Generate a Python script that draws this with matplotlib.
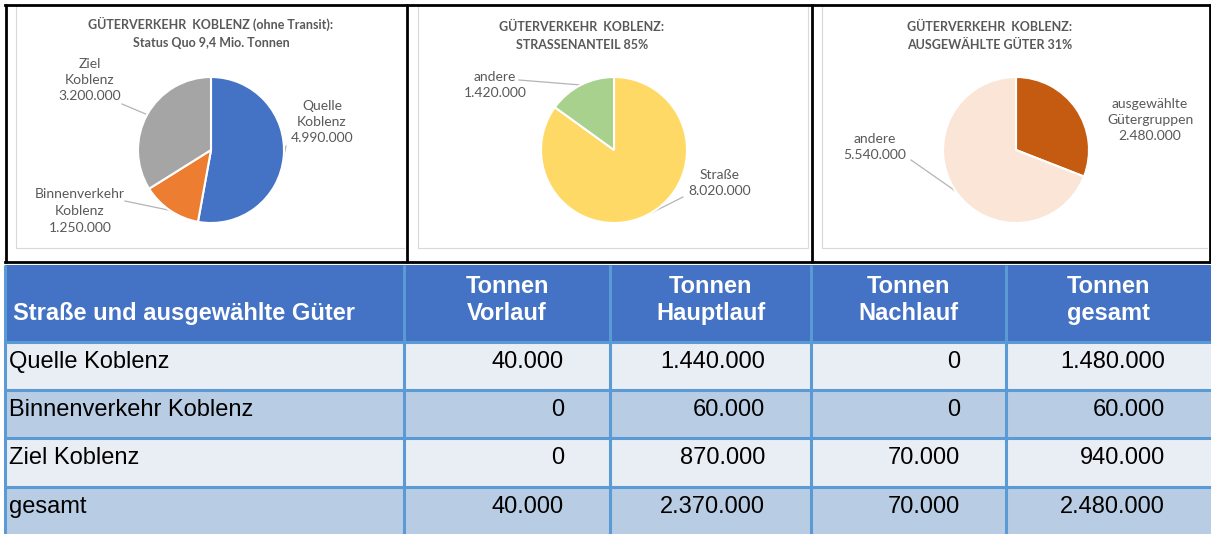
import matplotlib
matplotlib.use("Agg")
import numpy as np
import matplotlib.pyplot as plt
from matplotlib.patches import Rectangle

W, H = 1211, 534

# --- pie charts ---
p1_labels = ["Quelle\nKoblenz", "Binnenverkehr\nKoblenz", "Ziel\nKoblenz"]
p1_values = [4990000, 1250000, 3200000]
p1_colors = ["#4472C4", "#ED7D31", "#A5A5A5"]
p1_title = "GÜTERVERKEHR  KOBLENZ (ohne Transit):\nStatus Quo 9,4 Mio. Tonnen"

p2_labels = ["Straße", "andere"]
p2_values = [8020000, 1420000]
p2_colors = ["#FFD966", "#A9D18E"]
p2_title = "GÜTERVERKEHR  KOBLENZ:\nSTRASSENANTEIL 85%"

p3_labels = ["ausgewählte\nGütergruppen", "andere"]
p3_values = [2480000, 5540000]
p3_colors = ["#C55A11", "#FBE5D6"]
p3_title = "GÜTERVERKEHR  KOBLENZ:\nAUSGEWÄHLTE GÜTER 31%"

# --- table ---
col_headers = ["Straße und ausgewählte Güter", "Tonnen\nVorlauf", "Tonnen\nHauptlauf",
               "Tonnen\nNachlauf", "Tonnen\ngesamt"]
row_names = ["Quelle Koblenz", "Binnenverkehr Koblenz", "Ziel Koblenz", "gesamt"]
vorlauf = [40000, 0, 0, 40000]
hauptlauf = [1440000, 60000, 870000, 2370000]
nachlauf = [0, 0, 70000, 70000]
gesamt = [1480000, 60000, 940000, 2480000]


def fmt(v):
    return "{:,}".format(v).replace(",", ".")


fig = plt.figure(figsize=(W / 100, H / 100), dpi=100)
bg = fig.add_axes([0, 0, 1, 1])
bg.set_xlim(0, W)
bg.set_ylim(H, 0)
bg.axis("off")

GRAY = "#595959"
R = 73  # pie radius in px


def draw_pie(cx, cy, values, colors, labels, label_pos, leader_start, title, title_pos):
    aw, ah = 380, 240
    ax = fig.add_axes([(cx - aw / 2) / W, 1 - (cy + ah / 2) / H, aw / W, ah / H])
    wedges, _ = ax.pie(values, colors=colors, startangle=90, counterclock=False,
                       wedgeprops=dict(edgecolor="white", linewidth=1.5))
    ax.set_xlim(-aw / 2 / R, aw / 2 / R)
    ax.set_ylim(-ah / 2 / R, ah / 2 / R)
    ax.axis("off")
    for w, lab, v, pos, ls in zip(wedges, labels, values, label_pos, leader_start):
        bg.text(pos[0], pos[1], lab + "\n" + fmt(v), ha="center", va="center",
                fontsize=10, family="Lato", color=GRAY, linespacing=1.45)
        if ls is not None:
            mid = np.deg2rad((w.theta1 + w.theta2) / 2)
            ex, ey = cx + R * np.cos(mid), cy - R * np.sin(mid)
            bg.plot([ls[0], ex], [ls[1], ey], color="#B4B4B4", lw=0.9)
    bg.text(title_pos[0], title_pos[1], title, ha="center", va="center",
            fontsize=9, family="Lato", weight="bold", color=GRAY, linespacing=1.55)


draw_pie(211, 150, p1_values, p1_colors, p1_labels,
         [(322, 122), (80, 211), (90, 80)],
         [(286, 146), (125, 201), (122, 104)],
         p1_title, (211, 33))
draw_pie(614, 150, p2_values, p2_colors, p2_labels,
         [(720, 183), (495, 85)],
         [(683, 197), (519, 80)],
         p2_title, (582, 36))
draw_pie(1016, 150, p3_values, p3_colors, p3_labels,
         [(1150, 120), (875, 147)],
         [None, (911, 160)],
         p3_title, (990, 36))

# chart frames
fc = "#D9D9D9"
bg.plot([16, 16, 404], [5, 248, 248], color=fc, lw=0.8)
bg.plot([418, 418, 808, 808], [5, 248, 248, 5], color=fc, lw=0.8)
bg.plot([822, 822, 1207], [5, 248, 248], color=fc, lw=0.8)
for x in [6, 406.5, 811.5, 1209.5]:
    bg.plot([x, x], [4, 263], color="black", lw=2.0, solid_capstyle="butt")
bg.plot([5, W], [5, 5], color="black", lw=2.0)
bg.plot([5, W], [262, 262], color="black", lw=2.0)

# table
col_edges = [5, 404, 610, 811, 1006, 1211]
row_edges = [265, 342, 390, 438, 487, 534]
fills = ["#E9EDF4", "#B8CCE4"]

bg.add_patch(Rectangle((col_edges[0], row_edges[0]), col_edges[-1] - col_edges[0],
                       row_edges[1] - row_edges[0], color="#4472C4", lw=0))
for i in range(len(row_names)):
    bg.add_patch(Rectangle((col_edges[0], row_edges[i + 1]), col_edges[-1] - col_edges[0],
                           row_edges[i + 2] - row_edges[i + 1], color=fills[i % 2], lw=0))

lc = "#5B9BD5"
for x in col_edges[:-1]:
    bg.plot([x, x], [row_edges[0], row_edges[-1]], color=lc, lw=2.2, solid_capstyle="butt")
for y in row_edges[1:-1]:
    bg.plot([col_edges[0], col_edges[-1]], [y, y], color=lc, lw=2.2, solid_capstyle="butt")

tfont = dict(family="Liberation Sans", fontsize=17)
bg.text(13, 320, col_headers[0], ha="left", va="baseline", color="white",
        weight="bold", **tfont)
for j, h in enumerate(col_headers[1:], start=1):
    cxm = (col_edges[j] + col_edges[j + 1]) / 2
    for k, line in enumerate(h.split("\n")):
        bg.text(cxm, 293 + 27 * k, line, ha="center", va="baseline", color="white",
                weight="bold", **tfont)

columns = [vorlauf, hauptlauf, nachlauf, gesamt]
for i, name in enumerate(row_names):
    yb = row_edges[i + 1] + 26
    bg.text(9, yb, name, ha="left", va="baseline", color="black", **tfont)
    for j, col in enumerate(columns, start=1):
        bg.text(col_edges[j + 1] - 46, yb, fmt(col[i]), ha="right", va="baseline",
                color="black", **tfont)

fig.savefig("out.png", dpi=100)
